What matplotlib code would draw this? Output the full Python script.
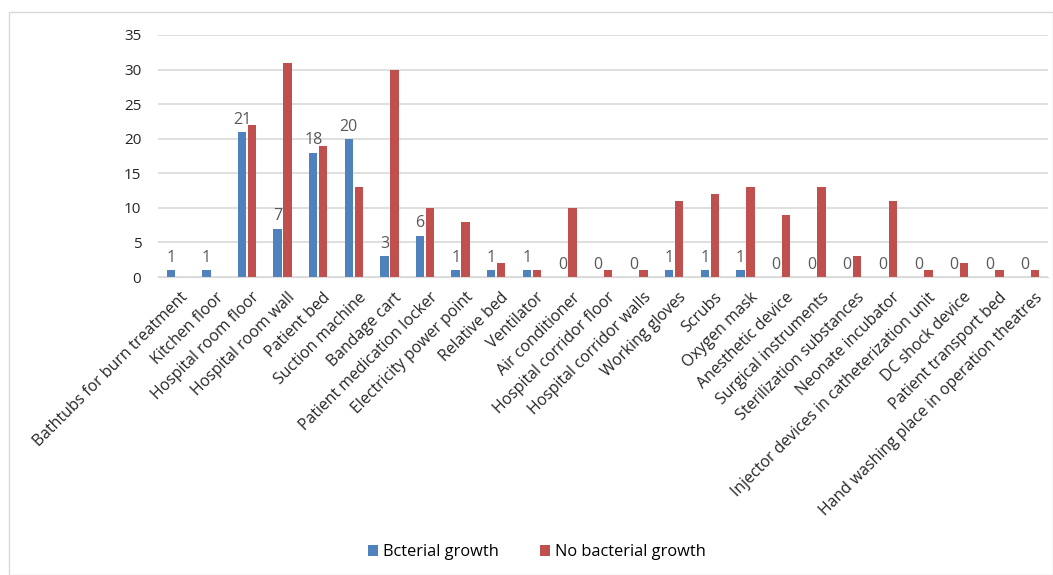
import numpy as np
import matplotlib.pyplot as plt
from matplotlib.patches import Rectangle

plt.rcParams['font.family'] = ['Open Sans', 'DejaVu Sans']

categories = ['Bathtubs for burn treatment', 'Kitchen floor', 'Hospital room floor',
              'Hospital room wall', 'Patient bed', 'Suction machine', 'Bandage cart',
              'Patient medication locker', 'Electricity power point', 'Relative bed',
              'Ventilator', 'Air conditioner', 'Hospital corridor floor',
              'Hospital corridor walls', 'Working gloves', 'Scrubs', 'Oxygen mask',
              'Anesthetic device', 'Surgical instruments', 'Sterilization substances',
              'Neonate incubator', 'Injector devices in catheterization unit',
              'DC shock device', 'Patient transport bed',
              'Hand washing place in operation theatres']
growth = [1, 1, 21, 7, 18, 20, 3, 6, 1, 1, 1, 0, 0, 0, 1, 1, 1, 0, 0, 0, 0, 0, 0, 0, 0]
no_growth = [0, 0, 22, 31, 19, 13, 30, 10, 8, 2, 1, 10, 1, 1, 11, 12, 13, 9, 13, 3, 11, 1, 2, 1, 1]

fig = plt.figure(figsize=(10.53, 5.75), dpi=100)
ax = fig.add_axes([158 / 1053, 1 - 277 / 575, 890 / 1053, 242 / 575])

x = np.arange(len(categories))
w = 0.24
ax.bar(x - 0.14, growth, w, color='#4F81BD', label='Bcterial growth')
ax.bar(x + 0.14, no_growth, w, color='#C0504D', label='No bacterial growth')

# only the first series carries value labels
for xi, v in zip(x, growth):
    ax.text(xi - 0.14, v + 0.6, str(v), ha='center', va='bottom',
            fontsize=11.5, color='#595959')

ax.set_xlim(-0.5, len(categories) - 0.5)
ax.set_ylim(0, 35)
ax.set_yticks(range(0, 36, 5))
ax.yaxis.grid(True, color='#D9D9D9', linewidth=1.2)
ax.set_axisbelow(True)
for s in ['top', 'right', 'left']:
    ax.spines[s].set_visible(False)
ax.spines['bottom'].set_color('#D9D9D9')
ax.tick_params(axis='both', length=0, labelsize=11, colors='#262626')
ax.tick_params(axis='y', pad=12)
ax.tick_params(axis='x', pad=9)
ax.set_xticks(x + 0.12)
ax.set_xticklabels(categories, rotation=45, ha='right', rotation_mode='anchor', fontsize=11.4)

fig.legend(loc='lower center', bbox_to_anchor=(0.51, 0.0), ncol=2, frameon=False,
           fontsize=11.8, handlelength=0.6, handleheight=0.6, columnspacing=2.5,
           handletextpad=0.3)

fig.patches.append(Rectangle((9 / 1053, 0.0), 1 - 9 / 1053, 1 - 12 / 575,
                             transform=fig.transFigure, fill=False,
                             edgecolor='#D9D9D9', linewidth=1))

fig.savefig('out.png', dpi=100)
